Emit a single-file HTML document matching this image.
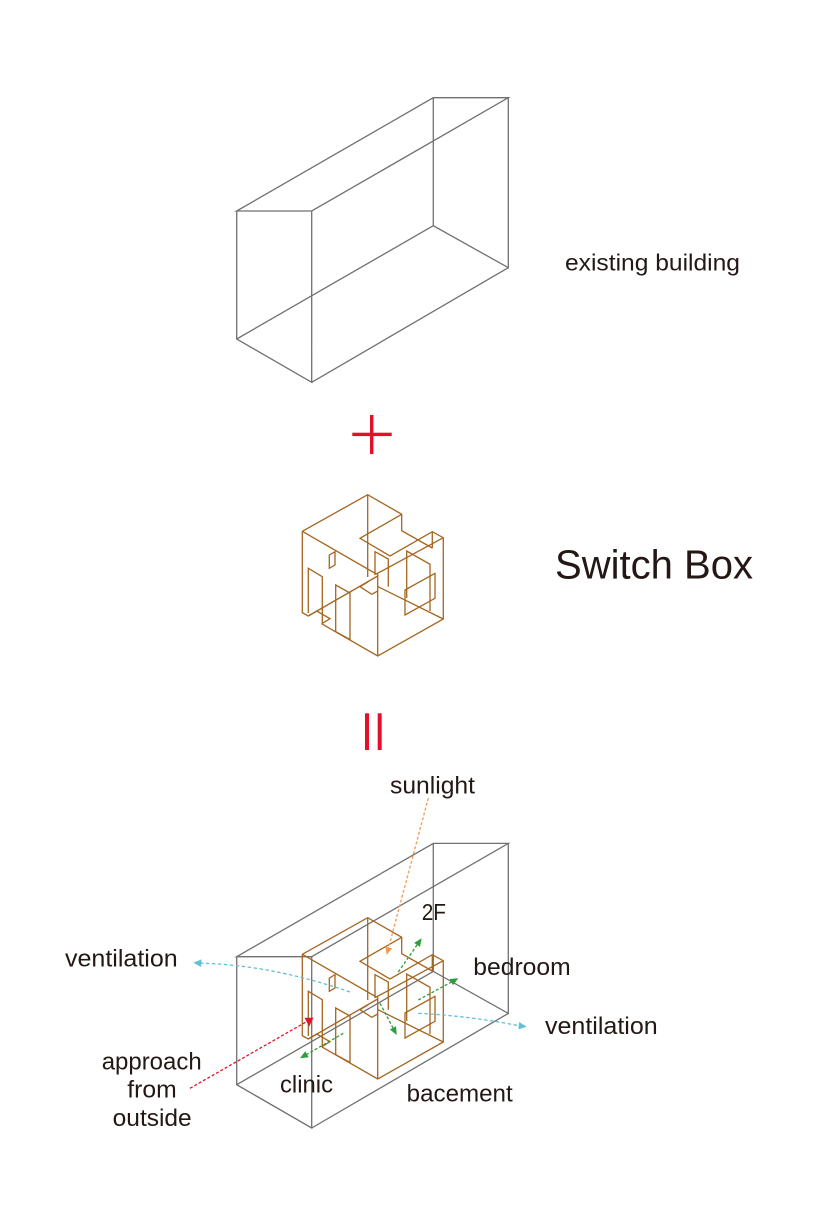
<!DOCTYPE html>
<html>
<head>
<meta charset="utf-8">
<style>
html,body{margin:0;padding:0;background:#fff;}
svg{display:block;}
text{font-family:"Liberation Sans","DejaVu Sans",sans-serif;fill:#231815;}
</style>
</head>
<body>
<svg width="818" height="1227" viewBox="0 0 818 1227" xmlns="http://www.w3.org/2000/svg">
<defs>
  <g id="bx" fill="none" stroke="#707070" stroke-width="1.3">
    <path d="M236.7,211 L433.3,97.7 L508.3,97.7 L311.7,211 Z"/>
    <path d="M236.7,211 L236.7,339 L311.7,382.3 L311.7,211"/>
    <path d="M433.3,97.7 L433.3,225.7 L508.3,267.7 L508.3,97.7"/>
    <path d="M311.7,382.3 L508.3,267.7"/>
    <path d="M236.7,339 L433.3,225.7"/>
  </g>
  <g id="sb" fill="none" stroke="#a5651f" stroke-width="1.3" stroke-linejoin="miter">
    <path d="M302.3,531.3 L367.7,494.7 L401.7,514.3 L401.7,530.7 L432.3,548"/>
    <path d="M401.7,514.3 L360,538.3 L390,556 L432.3,531.7 L443.3,537.7 L443.3,619 L377.7,656 L321.7,623.8"/>
    <path d="M432.3,531.7 L432.3,548.3"/>
    <path d="M302.3,531.3 L302.3,612.7 L308.3,616 L316.7,611 L330,618.7 L321.7,623.8"/>
    <path d="M367.7,494.7 L367.7,577"/>
    <path d="M302.3,531.3 L376.3,574 L443.3,537.7"/>
    <path d="M377.7,574 L377.7,656"/>
    <path d="M329.3,555 L335,551.7 L335,565 L329.3,568.3 Z"/>
    <path d="M308.3,613 L308.3,568.3 L322.3,576.7 L322.3,624"/>
    <path d="M308.3,616 L377.7,576"/>
    <path d="M335.7,631.7 L335.7,585 L350,593 L350,639.5"/>
    <path d="M335.7,631.7 L350,639.5"/>
    <path d="M360,586.7 L368.3,581.7 M360,586.7 L371.7,594.3 L377.7,591"/>
    <path d="M406.7,598 L406.7,551 L430,564.3 L430,611"/>
    <path d="M405,590 L435,573.3 L435,598.3 L405,615 Z"/>
    <path d="M375,575 L375,551.7 L388.3,559 L388.3,586.7"/>
    <path d="M378,586.7 L443.3,619"/>
  </g>
</defs>

<!-- top: existing building -->
<use href="#bx"/>
<text x="565" y="270.7" font-size="23.5" textLength="175" lengthAdjust="spacingAndGlyphs">existing building</text>

<!-- plus -->
<rect x="370" y="415" width="3.4" height="39" fill="#e60f2a"/>
<rect x="352.3" y="432.7" width="39.4" height="3.4" fill="#e60f2a"/>

<!-- switch box -->
<use href="#sb"/>
<text x="555" y="578.3" font-size="41" textLength="198" lengthAdjust="spacingAndGlyphs">Switch Box</text>

<!-- equals (vertical) -->
<rect x="365" y="713.3" width="4" height="36.7" fill="#e60f2a"/>
<rect x="377.7" y="713.3" width="4" height="36.7" fill="#e60f2a"/>

<!-- bottom composite -->
<g transform="translate(0,745.7)"><use href="#bx"/></g>
<g transform="translate(0,423)"><use href="#sb"/></g>

<!-- sunlight arrow -->
<path d="M428.3,798 L388.7,947.3" stroke="#f39a52" stroke-width="1.3" stroke-dasharray="3,2" fill="none"/>
<polygon points="386.7,955 385.3,946.4 392.1,948.2" fill="#f39a52"/>

<!-- green arrows -->
<g stroke="#2e9e3a" stroke-width="1.3" stroke-dasharray="3,2" fill="none">
  <path d="M398.3,972 L417.1,944.9"/>
  <path d="M418.3,1000 L451.3,982.1"/>
  <path d="M380,1003.3 L393,1027.9"/>
  <path d="M343.3,1033.3 L306.9,1054.3"/>
</g>
<g fill="#2e9e3a">
  <polygon points="421.7,938.3 419.98,946.9 414.2,942.9"/>
  <polygon points="458.3,978.3 452.97,985.2 449.6,979.0"/>
  <polygon points="396.7,1035 389.9,1029.5 396.1,1026.3"/>
  <polygon points="300,1058.3 305.2,1051.3 308.7,1057.3"/>
</g>

<!-- cyan ventilation arrows -->
<g stroke="#62c0d6" stroke-width="1.3" stroke-dasharray="3.5,2.5" fill="none">
  <path d="M350,992 Q 272,965 201,963.2"/>
  <path d="M418.3,1013.3 Q 470,1016 518.8,1025.7"/>
</g>
<g fill="#62c0d6">
  <polygon points="193.3,962.7 201.5,959.4 201.1,967"/>
  <polygon points="526.7,1026.7 518.4,1029.4 519.2,1022"/>
</g>

<!-- red approach arrow -->
<path d="M190,1088.3 L306,1022" stroke="#e0142c" stroke-width="1.3" stroke-dasharray="3,2" fill="none"/>
<polygon points="304.5,1017.8 313.5,1017.8 309.2,1026.5" fill="#e0142c"/>

<!-- labels -->
<text x="390" y="793.3" font-size="24" textLength="85" lengthAdjust="spacingAndGlyphs">sunlight</text>
<text x="421.7" y="920" font-size="23" textLength="24.3" lengthAdjust="spacingAndGlyphs">2F</text>
<text x="65" y="966.7" font-size="24" textLength="112.7" lengthAdjust="spacingAndGlyphs">ventilation</text>
<text x="473.3" y="975" font-size="24" textLength="97.4" lengthAdjust="spacingAndGlyphs">bedroom</text>
<text x="545" y="1034" font-size="24" textLength="112.7" lengthAdjust="spacingAndGlyphs">ventilation</text>
<text x="101.7" y="1069.3" font-size="24" textLength="100" lengthAdjust="spacingAndGlyphs">approach</text>
<text x="127.3" y="1097.7" font-size="24" textLength="49.4" lengthAdjust="spacingAndGlyphs">from</text>
<text x="112.7" y="1126" font-size="24" textLength="79" lengthAdjust="spacingAndGlyphs">outside</text>
<text x="280" y="1092.7" font-size="24" textLength="53" lengthAdjust="spacingAndGlyphs">clinic</text>
<text x="406.7" y="1101.7" font-size="24" textLength="106" lengthAdjust="spacingAndGlyphs">bacement</text>
</svg>
</body>
</html>
